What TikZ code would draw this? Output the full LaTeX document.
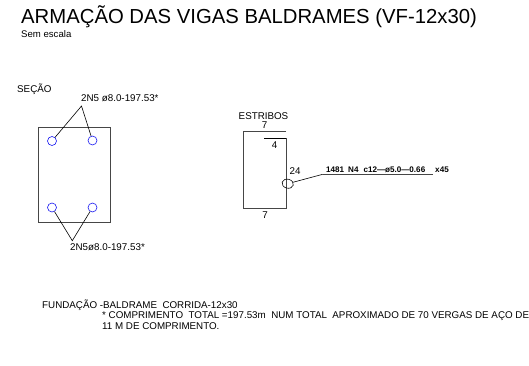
\documentclass[tikz,border=0pt]{standalone}
\usepackage{fontspec}
\setmainfont{Liberation Sans}
\usetikzlibrary{calc,shapes.geometric}
\definecolor{barblue}{RGB}{20,20,240}
\definecolor{frame}{RGB}{70,70,70}
\tikzset{
  bar/.style={draw=barblue,circle,inner sep=0pt,minimum size=9pt,line width=0.6pt},
  lbl/.style={inner sep=0pt,font=\fontsize{9.8}{11}\selectfont},
  lblw/.style={lbl,anchor=west},
  small/.style={inner sep=0pt,anchor=west,font=\fontsize{8.1}{9}\selectfont\bfseries},
  concrete/.style={draw=frame,line width=0.9pt},
  leader/.style={draw=black,line width=0.6pt}
}
\begin{document}
\begin{tikzpicture}[x=1pt,y=-1pt]
    \useasboundingbox (0,0) rectangle (529,366);
    \draw [frame,line width=1pt] (0,0) -- (529,0);
    \node [inner sep=0pt,anchor=west,font=\fontsize{20.3}{22}\selectfont] (title) at (21,17) {ARMAÇÃO DAS VIGAS BALDRAMES (VF-12x30)};
    \node [inner sep=0pt,anchor=west,font=\fontsize{9.6}{11}\selectfont] (scale) at (21,34) {Sem escala};

    % section
    \node [lblw] (secao) at (17,89.5) {SEÇÃO};
    \node [lblw] (topcall) at (81,98.5) {2N5 ø8.0-197.53*};
    \node [lblw] (botcall) at (70,247.5) {2N5ø8.0-197.53*};
    \draw [concrete] (38,127) rectangle (110.5,222);
    \node [bar] (b1) at (52,141) {};
    \node [bar] (b2) at (92.5,140.5) {};
    \node [bar] (b3) at (52,207.5) {};
    \node [bar] (b4) at (92.5,207.5) {};
    \coordinate (A) at (81.5,106);
    \coordinate (B) at (72.3,240.7);
    \draw [leader] (b1) -- (A) -- (b2);
    \draw [leader] (b3) -- (B) -- (b4);

    % stirrup
    \node [lbl] (estribos) at (263.5,116) {ESTRIBOS};
    \node [lbl] (top7) at (264.5,125) {7};
    \node [lbl] (hook4) at (274.5,145) {4};
    \node [lbl] (side24) at (295,171.5) {24};
    \node [lbl] (bot7) at (265,215.5) {7};
    \coordinate (C) at (286,131.7);
    \coordinate (D) at (243.5,131.7);
    \coordinate (E) at (243.5,208.7);
    \coordinate (F) at (286,208.7);
    \coordinate (G) at (286,138.3);
    \coordinate (H) at (264,138.3);
    \draw [concrete] (C) -- (D) -- (E) -- (F) -- (G);
    \draw [leader,line width=0.8pt] (G) -- (H);
    \node [draw,ellipse,rotate=-15,inner sep=0pt,minimum width=11.5pt,minimum height=9pt,line width=0.6pt] (tie) at (287.7,183.7) {};
    \coordinate (J) at (322.7,174.3);
    \coordinate (K) at (433.3,174.3);
    \draw [leader] (tie) -- (J);
    \draw [frame,line width=0.9pt] (J) -- (K);
    \node [small] (tielabel) at (326,170) {1481\hspace{4pt}N4\hspace{5pt}c12---ø5.0---0.66\hspace{10pt}x45};

    % notes
    \node [lblw] (note1) at (42,305.5) {FUNDAÇÃO -BALDRAME\ \ CORRIDA-12x30};
    \node [lblw] (note2) at (102,316) {* COMPRIMENTO\ \ TOTAL =197.53m\ \ NUM TOTAL\ \ APROXIMADO DE 70 VERGAS DE AÇO DE};
    \node [lblw] (note3) at (102,326.5) {11 M DE COMPRIMENTO.};
  \end{tikzpicture}
\end{document}
